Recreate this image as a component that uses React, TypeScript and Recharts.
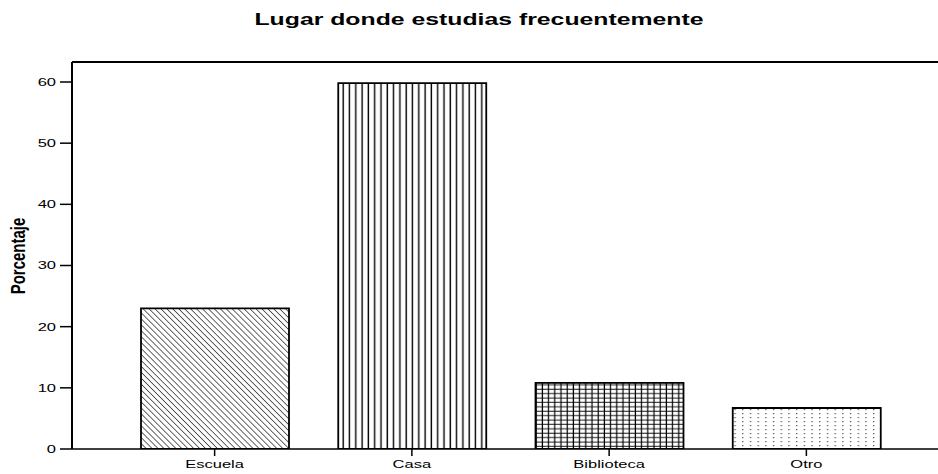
import { BarChart, Bar, XAxis, YAxis, Cell, ReferenceLine } from "recharts";

const categories = ["Escuela", "Casa", "Biblioteca", "Otro"];
const percentages = [23.0, 59.8, 10.8, 6.7];
const yTicks = [0, 10, 20, 30, 40, 50, 60];
const patterns = ["hatch", "vlines", "grid", "dots"];

const data = categories.map((name, i) => ({ name, value: percentages[i] }));

const FONT = "'Liberation Sans', Arial, sans-serif";
const Y_MAX = 63.27;
const STRETCH = 1.5;

function XTick(props: any) {
  const { x, y, payload } = props;
  return (
    <g transform={`translate(${x},${y}) scale(${STRETCH},1)`}>
      <text x={0} y={0} dy="0.71em" textAnchor="middle" fontFamily={FONT} fontSize={11} fill="#000">
        {payload.value}
      </text>
    </g>
  );
}

function YTick(props: any) {
  const { x, y, payload } = props;
  return (
    <g transform={`translate(${x},${y}) scale(${STRETCH},1)`}>
      <text x={0} y={0} dy="0.355em" textAnchor="end" fontFamily={FONT} fontSize={11} fill="#000">
        {payload.value}
      </text>
    </g>
  );
}

// axis title: glyphs stretched across the rotated text, like the reference
function YLabel() {
  return (
    <g transform="translate(20,256) rotate(-90) scale(1,1.3)">
      <text
        x={0}
        y={0}
        textAnchor="middle"
        dominantBaseline="middle"
        fontFamily={FONT}
        fontWeight="bold"
        fontSize={15}
        fill="#000"
      >
        Porcentaje
      </text>
    </g>
  );
}

export default function App() {
  return (
    <div style={{ position: "absolute", left: 0, top: 0, width: 938, height: 474, background: "#fff" }}>
      <BarChart
        width={938}
        height={474}
        data={data}
        margin={{ top: 62, right: 0, bottom: 0, left: 0 }}
        barCategoryGap={0}
      >
        <defs>
          <pattern id="hatch" width={4.2} height={5} patternUnits="userSpaceOnUse" patternTransform="rotate(-45)">
            <rect width={4.2} height={5} fill="#fff" />
            <line x1={0} y1={0} x2={0} y2={5} stroke="#000" strokeWidth={1.2} />
          </pattern>
          <pattern id="vlines" width={6.3} height={10} patternUnits="userSpaceOnUse">
            <rect width={6.3} height={10} fill="#fff" />
            <line x1={3} y1={0} x2={3} y2={10} stroke="#000" strokeWidth={1.4} />
          </pattern>
          <pattern id="grid" width={6.2} height={4.4} patternUnits="userSpaceOnUse">
            <rect width={6.2} height={4.4} fill="#fff" />
            <line x1={3} y1={0} x2={3} y2={4.4} stroke="#000" strokeWidth={1.2} />
            <line x1={0} y1={2} x2={6.2} y2={2} stroke="#000" strokeWidth={0.9} />
          </pattern>
          <pattern id="dots" width={7.7} height={4} patternUnits="userSpaceOnUse">
            <rect width={7.7} height={4} fill="#fff" />
            <rect x={3} y={1} width={1.2} height={1.2} fill="#444" />
          </pattern>
        </defs>
        <g transform={`translate(479,25) scale(1.55,1)`}>
          <text x={0} y={0} textAnchor="middle" fontFamily={FONT} fontWeight="bold" fontSize={16} fill="#000">
            Lugar donde estudias frecuentemente
          </text>
        </g>
        <XAxis
          dataKey="name"
          axisLine={{ stroke: "#000", strokeWidth: 1.5 }}
          tickLine={{ stroke: "#000", strokeWidth: 1.5 }}
          tickSize={7}
          tickMargin={4}
          padding={{ left: 44, right: 33 }}
          tick={<XTick />}
          height={25}
        />
        <YAxis
          domain={[0, Y_MAX]}
          ticks={yTicks}
          allowDataOverflow
          axisLine={{ stroke: "#000", strokeWidth: 2 }}
          tickLine={{ stroke: "#000", strokeWidth: 1.5 }}
          tickSize={12}
          tickMargin={4}
          tick={<YTick />}
          width={72}
          label={<YLabel />}
        />
        <ReferenceLine y={Y_MAX} stroke="#000" strokeWidth={2} ifOverflow="extendDomain" />
        <Bar dataKey="value" barSize={148} stroke="#000" strokeWidth={1.8} isAnimationActive={false}>
          {data.map((d, i) => (
            <Cell key={d.name} fill={`url(#${patterns[i]})`} />
          ))}
        </Bar>
      </BarChart>
    </div>
  );
}
